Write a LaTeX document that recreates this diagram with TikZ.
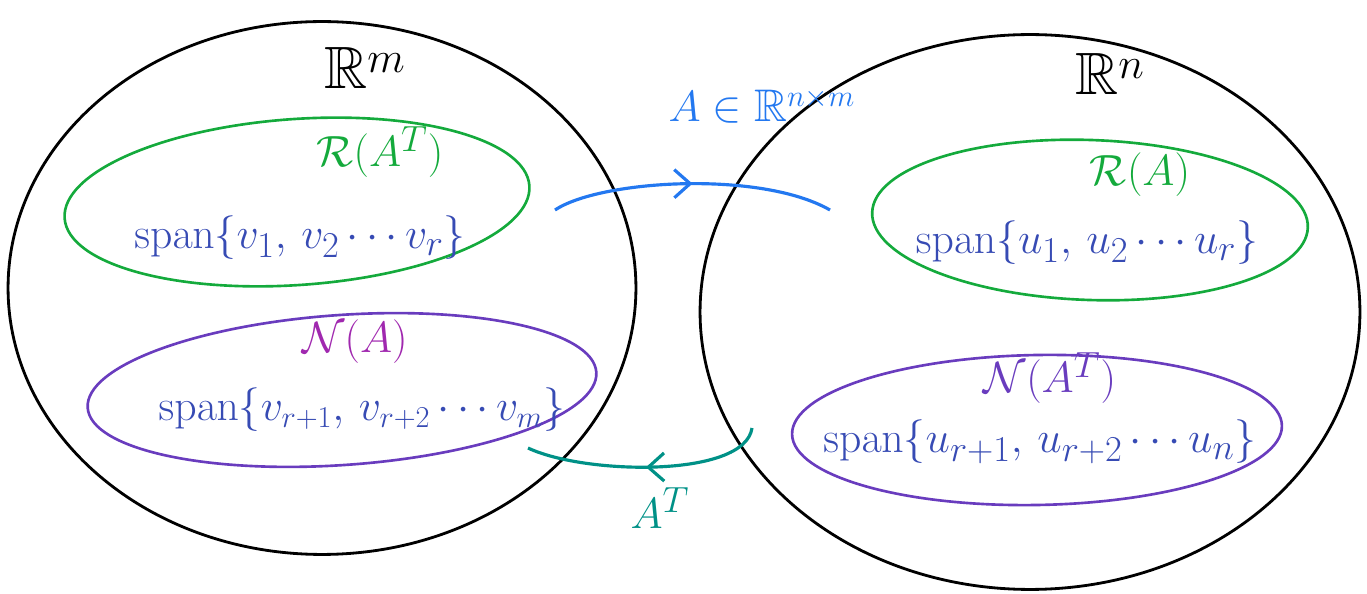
\documentclass[tikz,border=0pt]{standalone}
\usepackage{amssymb,amsmath}
\usetikzlibrary{shapes.geometric,arrows.meta,decorations.markings}
\definecolor{cgreen}{RGB}{20,170,60}
\definecolor{cblue}{RGB}{55,75,180}
\definecolor{cpurple}{RGB}{105,60,190}
\definecolor{cmag}{RGB}{160,40,175}
\definecolor{carrow}{RGB}{35,120,240}
\definecolor{cteal}{RGB}{0,145,135}
\tikzset{
  space/.style={draw=black,line width=1.6pt,ellipse,inner sep=0pt},
  sub/.style={ellipse,inner sep=0pt,line width=1.5pt},
  lbl/.style={font=\fontsize{28}{32}\selectfont},
  big/.style={font=\fontsize{34}{38}\selectfont},
  mapar/.style={line width=1.8pt,postaction={decorate},
    decoration={markings,mark=at position 0.5 with {\arrow{Straight Barb[length=9pt,width=16pt,line width=1.8pt]}}}}
}
\begin{document}
\begin{tikzpicture}[x=0.02cm,y=-0.02cm]
\useasboundingbox (0,0) rectangle (1367,594);
% big spaces
\node[space,minimum width=12.56cm,minimum height=10.66cm] (Rm) at (322,288) {};
\node[space,minimum width=13.2cm,minimum height=11.1cm] (Rn) at (1030,312) {};
% subspaces
\node[sub,draw=cgreen,minimum width=9.32cm,minimum height=3.32cm,rotate=4] (RAT) at (297,202) {};
\node[sub,draw=cpurple,minimum width=10.2cm,minimum height=3.0cm,rotate=4] (NA) at (342,390) {};
\node[sub,draw=cgreen,minimum width=8.72cm,minimum height=3.2cm,rotate=-2] (RA) at (1090,220) {};
\node[sub,draw=cpurple,minimum width=9.8cm,minimum height=3.0cm,rotate=1] (NAT) at (1037,430) {};
% labels
\node[big] (lRm) at (365,68) {$\mathbb{R}^{m}$};
\node[big] (lRn) at (1110,74) {$\mathbb{R}^{n}$};
\node[lbl,font=\fontsize{26}{30}\selectfont,text=carrow] (lA) at (762,106) {$A\in\mathbb{R}^{n\times m}$};
\node[lbl,text=cgreen] (lRAT) at (380,152) {$\mathcal{R}(A^{T})$};
\node[lbl,text=cblue] (lv1) at (300,238) {$\mathrm{span}\{v_1,\, v_2 \cdots v_r\}$};
\node[lbl,text=cmag] (lNA) at (355,342) {$\mathcal{N}(A)$};
\node[lbl,font=\fontsize{27}{31}\selectfont,text=cblue] (lv2) at (362,410) {$\mathrm{span}\{v_{r+1},\, v_{r+2} \cdots v_m\}$};
\node[lbl,text=cgreen] (lRA) at (1140,175) {$\mathcal{R}(A)$};
\node[lbl,text=cblue] (lu1) at (1087,243) {$\mathrm{span}\{u_1,\, u_2 \cdots u_r\}$};
\node[lbl,text=cpurple] (lNAT) at (1050,378) {$\mathcal{N}(A^{T})$};
\node[lbl,text=cblue] (lu2) at (1040,442) {$\mathrm{span}\{u_{r+1},\, u_{r+2} \cdots u_n\}$};
\node[lbl,text=cteal] (lAT) at (660,508) {$A^{T}$};
% arrows
\coordinate (a1) at (555,210);
\coordinate (a2) at (830,210);
\coordinate (b1) at (752,428);
\coordinate (b2) at (528,448);
\draw[mapar,draw=carrow] (a1) .. controls (600,180) and (760,170) .. (a2);
\draw[mapar,draw=cteal] (b1) .. controls (745,478) and (585,475) .. (b2);
\end{tikzpicture}
\end{document}
